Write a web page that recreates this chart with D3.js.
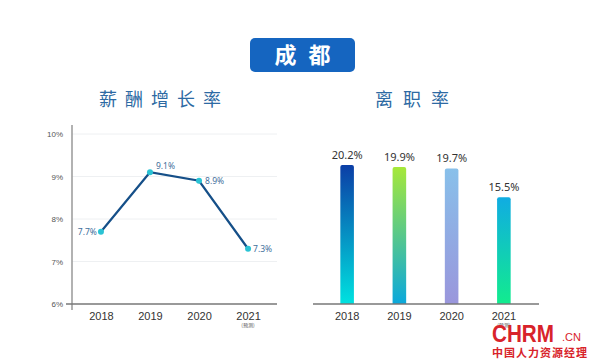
<!DOCTYPE html>
<html><head><meta charset="utf-8">
<script src="https://cdn.jsdelivr.net/npm/d3@7"></script>
<style>body{margin:0;background:#fff}svg{display:block;font-family:"Noto Sans","Noto Sans CJK SC",sans-serif}</style>
</head><body>
<svg id="c" width="600" height="362"></svg>
<script>
const years = ["2018","2019","2020","2021"];
const salaryGrowth = [7.7, 9.1, 8.9, 7.3];
const turnover = [20.2, 19.9, 19.7, 15.5];
const yTicks = [6,7,8,9,10];
const mainTitle = "成都";
const leftTitle = "薪酬增长率";
const rightTitle = "离职率";
const forecastNote = "(预测)";
const barGradients = [
  ["#0b3ea6","#00e2e0"],
  ["#a6e83a","#0aa8dc"],
  ["#88c0ea","#9a96dc"],
  ["#10ace2","#12ec8e"]
];

const svg = d3.select("#c");
const cjk = '"Noto Sans CJK SC",sans-serif';

// Title box
svg.append("rect").attr("x",250).attr("y",38).attr("width",105).attr("height",34).attr("rx",5).attr("fill","#1565c0");
svg.append("text").attr("x",302.5+6).attr("y",63).attr("text-anchor","middle").attr("fill","#fff")
  .attr("font-size",22).attr("font-weight","bold").attr("letter-spacing",12).style("font-family",cjk).text(mainTitle);

svg.append("text").attr("x",160+4).attr("y",106).attr("text-anchor","middle").attr("fill","#2d6aa3")
  .attr("font-size",18).attr("letter-spacing",8).style("font-family",cjk).text(leftTitle);
svg.append("text").attr("x",412+5).attr("y",106).attr("text-anchor","middle").attr("fill","#2d6aa3")
  .attr("font-size",18).attr("letter-spacing",10).style("font-family",cjk).text(rightTitle);

// Left line chart
const xL = d3.scalePoint().domain(years).range([72,277]).padding(0.59);
const yL = d3.scaleLinear().domain([6,10]).range([304,134]);

const gL = svg.append("g");
gL.selectAll("line.grid").data(yTicks.slice(1)).join("line")
  .attr("x1",72).attr("x2",277).attr("y1",d=>yL(d)).attr("y2",d=>yL(d))
  .attr("stroke","#eef0f2").attr("stroke-width",1);

const yAxisL = d3.axisLeft(yL).tickValues(yTicks).tickFormat(d=>d+"%").tickSize(0).tickPadding(9);
const ya = gL.append("g").attr("transform","translate(72,0)").call(yAxisL);
ya.select(".domain").remove();
ya.selectAll("text").attr("font-size",8).attr("fill","#555");
gL.append("line").attr("x1",72).attr("x2",72).attr("y1",125).attr("y2",310).attr("stroke","#999").attr("stroke-width",1.5);

const xAxisL = d3.axisBottom(xL).tickSize(0).tickPadding(8);
const xa = gL.append("g").attr("transform","translate(0,304)").call(xAxisL);
xa.select(".domain").attr("d","M66,0H277").attr("stroke","#777").attr("stroke-width",1.5);
xa.selectAll("text").attr("font-size",11).attr("fill","#333");
gL.append("text").attr("x",xL("2021")).attr("y",327).attr("text-anchor","middle").attr("font-size",5).attr("fill","#555").style("font-family",cjk).text(forecastNote);

const line = d3.line().x((d,i)=>xL(years[i])).y(d=>yL(d));
gL.append("path").datum(salaryGrowth).attr("d",line).attr("fill","none").attr("stroke","#154f88").attr("stroke-width",2.2);
gL.selectAll("circle").data(salaryGrowth).join("circle")
  .attr("cx",(d,i)=>xL(years[i])).attr("cy",d=>yL(d)).attr("r",3).attr("fill","#2ac3d4");
const lblOff = [[-4,3,"end"],[6,-3,"start"],[6,3,"start"],[5,3,"start"]];
gL.selectAll("text.vl").data(salaryGrowth).join("text").attr("class","vl")
  .attr("x",(d,i)=>xL(years[i])+lblOff[i][0]).attr("y",(d,i)=>yL(d)+lblOff[i][1])
  .attr("text-anchor",(d,i)=>lblOff[i][2]).attr("font-size",8.5).attr("fill","#3f6f9c")
  .text(d=>d+"%");

// Right bar chart
const xR = d3.scaleBand().domain(years).range([321,530]).paddingInner(0.74).paddingOuter(0.37);
const yR = d3.scaleLinear().domain([0,25]).range([304,132]);
const defs = svg.append("defs");
barGradients.forEach((g,i)=>{
  const lg = defs.append("linearGradient").attr("id","bg"+i).attr("x1",0).attr("y1",0).attr("x2",0).attr("y2",1);
  lg.append("stop").attr("offset","0%").attr("stop-color",g[0]);
  lg.append("stop").attr("offset","100%").attr("stop-color",g[1]);
});
const gR = svg.append("g");
gR.selectAll("path.bar").data(turnover).join("path").attr("class","bar")
  .attr("d",(d,i)=>{
    const x=xR(years[i]), w=xR.bandwidth(), y=yR(d), b=yR(0), r=2;
    return `M${x},${b}V${y+r}Q${x},${y} ${x+r},${y}H${x+w-r}Q${x+w},${y} ${x+w},${y+r}V${b}Z`;
  })
  .attr("fill",(d,i)=>`url(#bg${i})`);
gR.selectAll("text.bl").data(turnover).join("text").attr("class","bl")
  .attr("x",(d,i)=>xR(years[i])+xR.bandwidth()/2).attr("y",d=>yR(d)-6)
  .attr("text-anchor","middle").attr("font-size",11).attr("fill","#333").text(d=>d+"%");
const xaR = gR.append("g").attr("transform","translate(0,304)").call(d3.axisBottom(xR).tickSize(0).tickPadding(8));
xaR.select(".domain").attr("d","M313,0H539").attr("stroke","#777").attr("stroke-width",1.5);
xaR.selectAll("text").attr("font-size",11).attr("fill","#333");

// Watermark
const wm = svg.append("g");
wm.append("text").attr("x",492).attr("y",342).attr("font-size",23).attr("font-weight","900")
  .attr("fill","#d8232a").style("font-family","Liberation Sans, Arial, sans-serif").attr("textLength",62).attr("lengthAdjust","spacingAndGlyphs").text("CHRM");
wm.append("text").attr("x",562).attr("y",341).attr("font-size",11).attr("fill","#d8232a")
  .style("font-family","Liberation Sans, sans-serif").text(".CN");
wm.append("text").attr("x",492).attr("y",357).attr("font-size",11).attr("font-weight","bold").attr("fill","#d8232a")
  .style("font-family",cjk).attr("textLength",95).text("中国人力资源经理");
gR.append("text").attr("x",xR("2021")+xR.bandwidth()/2).attr("y",327).attr("text-anchor","middle").attr("font-size",5).attr("fill","#555").style("font-family",cjk).text(forecastNote);
</script>
</body></html>
